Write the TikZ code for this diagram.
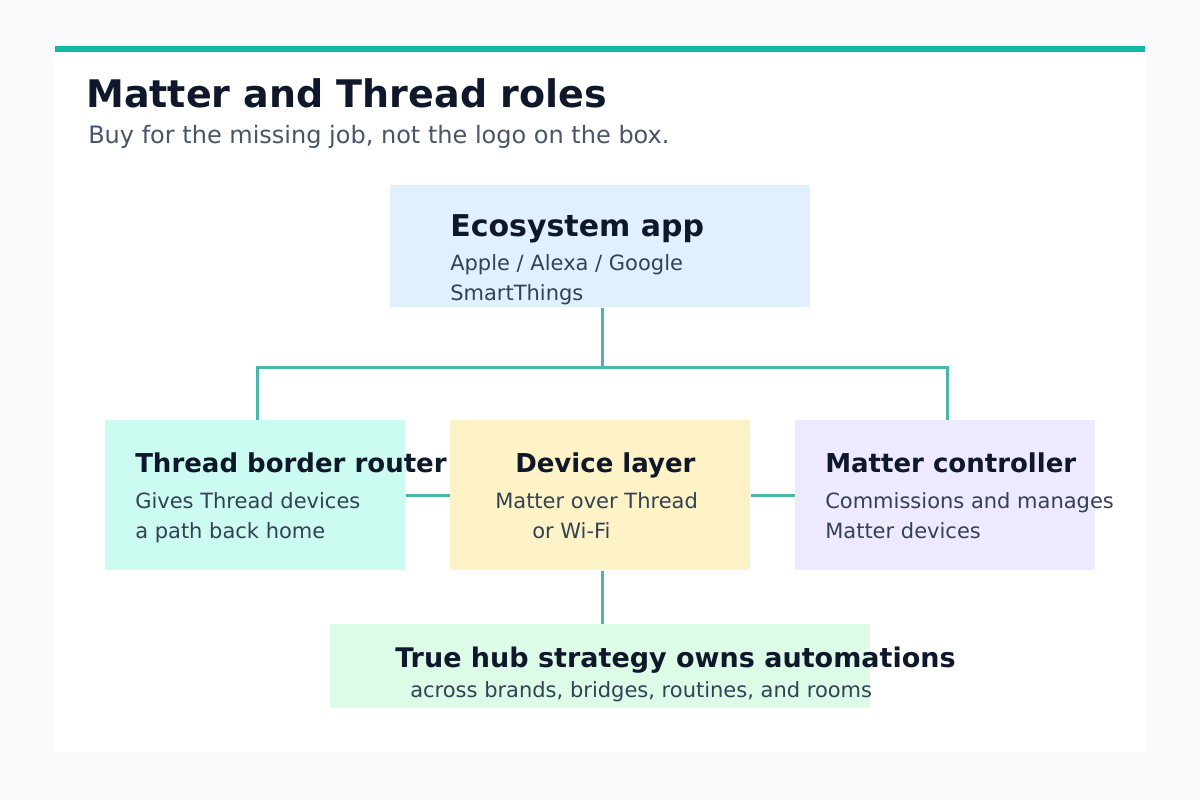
\documentclass[tikz,border=0pt]{standalone}
\usepackage{fontspec}
\setmainfont{DejaVu Sans}
\usepackage{xcolor}
\definecolor{page}{RGB}{248,250,252}
\definecolor{accent}{RGB}{20,184,166}
\definecolor{wire}{RGB}{77,182,172}
\definecolor{ink}{RGB}{15,23,42}
\definecolor{slate}{RGB}{71,85,105}
\definecolor{body}{RGB}{51,65,85}
\definecolor{skyfill}{RGB}{224,240,254}
\definecolor{mintfill}{RGB}{204,251,241}
\definecolor{sandfill}{RGB}{254,243,199}
\definecolor{lilacfill}{RGB}{237,233,254}
\definecolor{leaffill}{RGB}{220,252,231}
\usetikzlibrary{positioning,calc}
\tikzset{
  card/.style={draw=none, inner sep=0pt, anchor=north west},
  roletitle/.style={anchor=base west, inner sep=0pt, text=ink, font=\fontsize{19.5}{23}\selectfont\bfseries},
  roletext/.style={anchor=base west, inner sep=0pt, text=body, font=\fontsize{15.75}{19}\selectfont},
  link/.style={draw=wire, line width=2.3pt},
}

\begin{document}
\begin{tikzpicture}[x=0.75pt,y=-0.75pt]
% page and card
\fill[page] (0,0) rectangle (1200,800);
\useasboundingbox (0,0) rectangle (1200,800);
\fill[white] (55,46) rectangle (1145,752);
\fill[accent] (55,46) rectangle (1145,52);

% heading
\node[anchor=base west, inner sep=0pt, text=ink, font=\fontsize{28.5}{32}\selectfont\bfseries] (head) at (86,107) {Matter and Thread roles};
\node[anchor=base west, inner sep=0pt, text=slate, font=\fontsize{18}{22}\selectfont] (sub) at (88,143) {Buy for the missing job, not the logo on the box.};

% boxes
\node[card, fill=skyfill, minimum width=420*0.75pt, minimum height=122*0.75pt] (eco) at (390,185) {};
\node[card, fill=mintfill, minimum width=300*0.75pt, minimum height=150*0.75pt] (tbr) at (105,420) {};
\node[card, fill=sandfill, minimum width=300*0.75pt, minimum height=150*0.75pt] (dev) at (450,420) {};
\node[card, fill=lilacfill, minimum width=300*0.75pt, minimum height=150*0.75pt] (ctl) at (795,420) {};
\node[card, fill=leaffill, minimum width=540*0.75pt, minimum height=84*0.75pt] (hub) at (330,624) {};

% connectors
\coordinate (bus) at ($(eco.south)+(2,60)$);
\draw[link] ($(eco.south)+(2,0)$) -- (bus);
\draw[link] ($(tbr.north)+(2,0)$) -- ($(tbr.north |- bus)+(2,0)$) -- ($(ctl.north |- bus)+(2,0)$) -- ($(ctl.north)+(2,0)$);
\draw[link] (tbr.east) -- (dev.west);
\draw[link] (dev.east) -- (ctl.west);
\draw[link] ($(dev.south)+(2,0)$) -- ($(hub.north)+(2,0)$);

% texts
\node[roletitle, font=\fontsize{22.5}{26}\selectfont\bfseries] (ecoT) at (450,236) {Ecosystem app};
\node[roletext] (ecoA) at (450,270) {Apple / Alexa / Google};
\node[roletext] (ecoB) at (450,300) {SmartThings};

\node[roletitle] (tbrT) at (135,472) {Thread border router};
\node[roletext] (tbrA) at (135,508) {Gives Thread devices};
\node[roletext] (tbrB) at (135,538) {a path back home};

\node[roletitle] (devT) at (515,472) {Device layer};
\node[roletext] (devA) at (495,508) {Matter over Thread};
\node[roletext] (devB) at (532,538) {or Wi-Fi};

\node[roletitle] (ctlT) at (825,472) {Matter controller};
\node[roletext] (ctlA) at (825,508) {Commissions and manages};
\node[roletext] (ctlB) at (825,538) {Matter devices};

\node[roletitle, font=\fontsize{20.25}{24}\selectfont\bfseries] (hubT) at (395,667) {True hub strategy owns automations};
\node[roletext] (hubA) at (410,697) {across brands, bridges, routines, and rooms};
\end{tikzpicture}
\end{document}
